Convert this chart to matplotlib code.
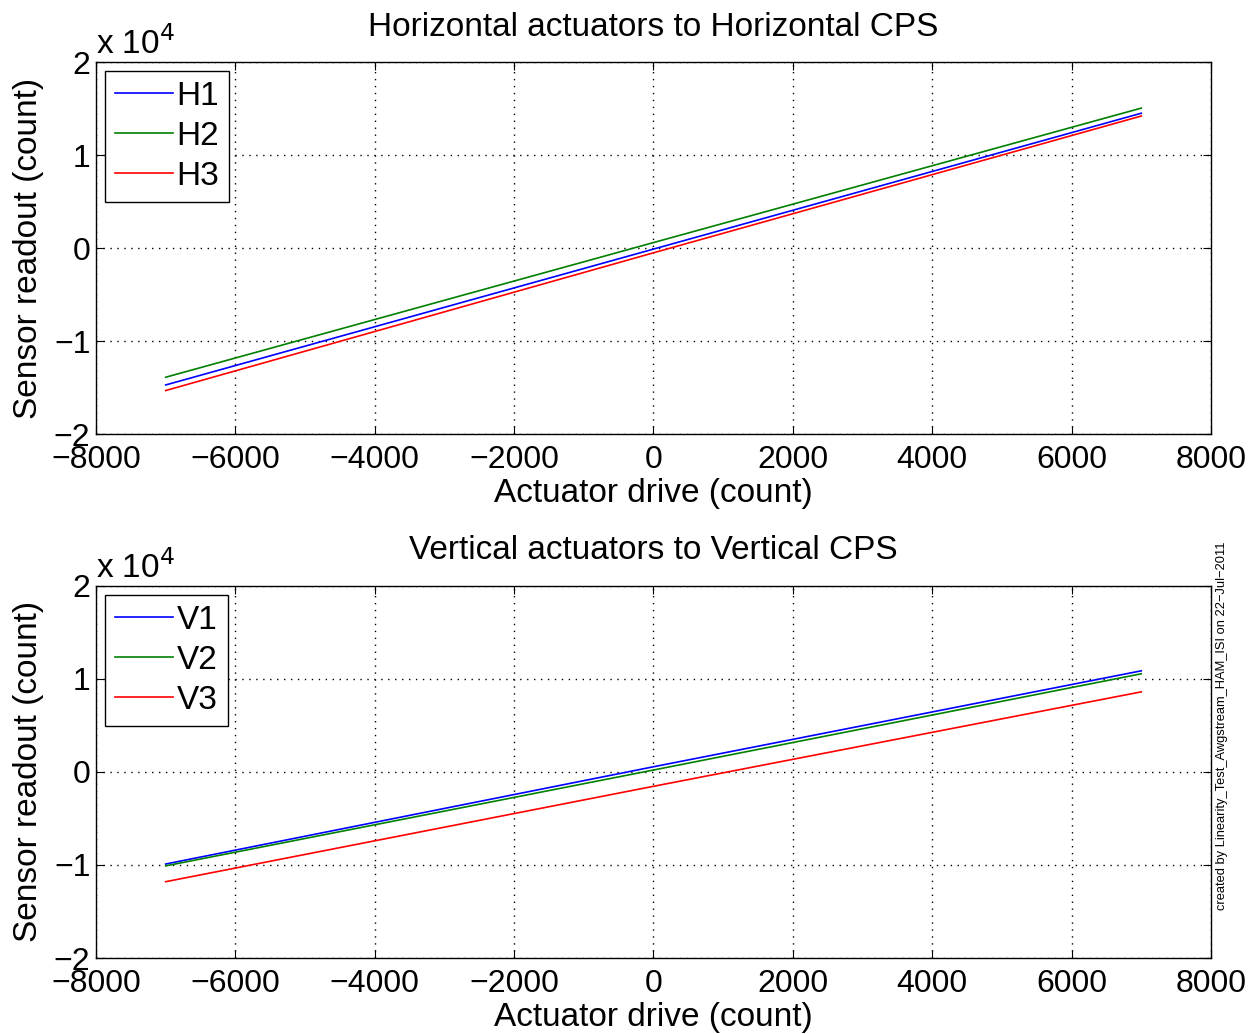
import matplotlib
matplotlib.use('Agg')
import matplotlib.pyplot as plt
from matplotlib.ticker import FuncFormatter

plt.rcParams['font.family'] = ['Liberation Sans', 'DejaVu Sans']

# actuator drive levels (count)
drive = [-7000, 0, 7000]

# horizontal CPS readout (count)
h1 = [-14700, -100, 14500]
h2 = [-13870, 600, 15050]
h3 = [-15300, -500, 14200]

# vertical CPS readout (count)
v1 = [-9900, 550, 10860]
v2 = [-10100, 200, 10540]
v3 = [-11800, -1550, 8600]

x_ticks = [-8000, -6000, -4000, -2000, 0, 2000, 4000, 6000, 8000]
y_ticks = [-20000, -10000, 0, 10000, 20000]

colors = ['#0000ff', '#008000', '#ff0000']
FS = 24


def fmt_minus(v, pos):
    return ('%d' % v).replace('-', '\u2212')


def setup_axes(ax, title):
    ax.set_xlim(-8000, 8000)
    ax.set_ylim(-20000, 20000)
    ax.set_xticks(x_ticks)
    ax.set_yticks(y_ticks)
    ax.xaxis.set_major_formatter(FuncFormatter(fmt_minus))
    ax.yaxis.set_major_formatter(FuncFormatter(lambda v, p: fmt_minus(v / 10000, p)))
    ax.tick_params(direction='in', top=True, right=True, labelsize=FS - 1, length=6)
    ax.tick_params(axis='x', pad=8)
    ax.tick_params(axis='y', pad=4)
    ax.grid(True, color='black', linestyle=(0, (1, 4)), linewidth=1)
    for s in ax.spines.values():
        s.set_linewidth(1)
    ax.set_title(title, fontsize=FS, pad=19)
    ax.set_xlabel('Actuator drive (count)', fontsize=FS, labelpad=2)
    ax.set_ylabel('Sensor readout (count)', fontsize=FS, labelpad=7)
    # exponent marker in the MATLAB style
    ax.text(0.0, 1.002, 'x 10$^{4}$', transform=ax.transAxes, fontsize=FS,
            ha='left', va='bottom')


fig = plt.figure(figsize=(12.6, 10.34), dpi=100)
ax1 = fig.add_axes([0.0762, 0.580, 0.8849, 0.360])
ax2 = fig.add_axes([0.0762, 0.0735, 0.8849, 0.360])

for ys, name, c in zip([h1, h2, h3], ['H1', 'H2', 'H3'], colors):
    ax1.plot(drive, ys, color=c, linewidth=1.2, label=name)
for ys, name, c in zip([v1, v2, v3], ['V1', 'V2', 'V3'], colors):
    ax2.plot(drive, ys, color=c, linewidth=1.2, label=name)

setup_axes(ax1, 'Horizontal actuators to Horizontal CPS')
setup_axes(ax2, 'Vertical actuators to Vertical CPS')

for ax in (ax1, ax2):
    leg = ax.legend(loc='upper left', fontsize=FS, fancybox=False, framealpha=1,
                    edgecolor='black', handlelength=1.75, handletextpad=0.1,
                    borderpad=0.3, labelspacing=0.27, borderaxespad=0.27)
    leg.get_frame().set_linewidth(1)

fig.text(0.965, 0.298, 'created by Linearity_Test_Awgstream_HAM_ISI on 22\u2212Jul\u22122011',
         rotation=90, fontsize=9.3, ha='left', va='center')

fig.savefig('out.png', dpi=100, facecolor='white')
